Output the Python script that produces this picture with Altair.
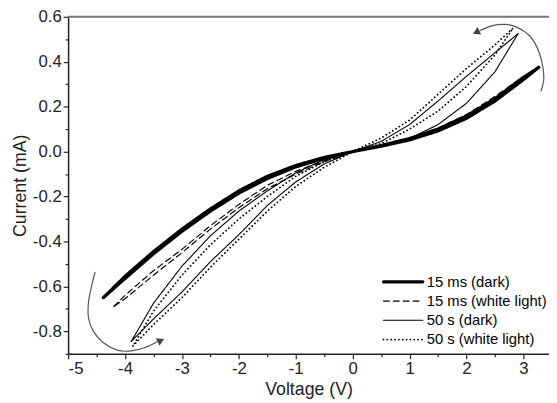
import altair as alt
import pandas as pd

series_names = ["15 ms (dark)", "15 ms (white light)", "50 s (dark)", "50 s (white light)"]

# each series is a closed sweep loop (negative tip -> positive tip -> back)
v_15ms_dark = [-4.38, -4.0, -3.5, -3.0, -2.5, -2.0, -1.5, -1.0, -0.5, 0.0, 0.5, 1.0, 1.5, 2.0, 2.5, 3.0, 3.27,
               3.0, 2.5, 2.0, 1.5, 1.0, 0.5, 0.0, -0.5, -1.0, -1.5, -2.0, -2.5, -3.0, -3.5, -4.0, -4.38]
i_15ms_dark = [-0.65, -0.565, -0.455, -0.355, -0.265, -0.185, -0.12, -0.068, -0.03, 0.0, 0.024, 0.052, 0.092, 0.148, 0.225, 0.32, 0.375,
               0.33, 0.235, 0.158, 0.1, 0.058, 0.027, 0.0, -0.026, -0.062, -0.11, -0.175, -0.255, -0.345, -0.445, -0.555, -0.65]

v_15ms_light = [-4.2, -4.0, -3.5, -3.0, -2.5, -2.0, -1.5, -1.0, -0.5, 0.0, 0.5, 1.0, 1.5, 2.0, 2.5, 3.0,
                2.5, 2.0, 1.5, 1.0, 0.5, 0.0, -0.5, -1.0, -1.5, -2.0, -2.5, -3.0, -3.5, -4.0, -4.2]
i_15ms_light = [-0.69, -0.64, -0.53, -0.435, -0.33, -0.235, -0.15, -0.088, -0.04, 0.0, 0.026, 0.056, 0.098, 0.155, 0.235, 0.335,
                0.245, 0.165, 0.105, 0.06, 0.028, 0.0, -0.045, -0.1, -0.165, -0.25, -0.345, -0.45, -0.55, -0.655, -0.69]

v_50s_dark = [-3.89, -3.5, -3.0, -2.5, -2.0, -1.5, -1.0, -0.5, 0.0, 0.5, 1.0, 1.5, 2.0, 2.5, 2.91,
              2.5, 2.0, 1.5, 1.0, 0.5, 0.0, -0.5, -1.0, -1.5, -2.0, -2.5, -3.0, -3.5, -3.89]
i_50s_dark = [-0.845, -0.745, -0.625, -0.49, -0.37, -0.24, -0.135, -0.055, 0.0, 0.022, 0.058, 0.12, 0.215, 0.355, 0.526,
              0.44, 0.335, 0.225, 0.12, 0.045, 0.0, -0.035, -0.095, -0.175, -0.265, -0.375, -0.51, -0.675, -0.845]

v_50s_light = [-3.86, -3.5, -3.0, -2.5, -2.0, -1.5, -1.0, -0.5, 0.0, 0.5, 1.0, 1.5, 2.0, 2.5, 2.82,
               2.5, 2.0, 1.5, 1.0, 0.5, 0.0, -0.5, -1.0, -1.5, -2.0, -2.5, -3.0, -3.5, -3.86]
i_50s_light = [-0.865, -0.77, -0.65, -0.515, -0.39, -0.265, -0.155, -0.07, 0.0, 0.035, 0.1, 0.18, 0.29, 0.43, 0.55,
               0.475, 0.37, 0.255, 0.14, 0.06, 0.0, -0.045, -0.11, -0.2, -0.3, -0.415, -0.55, -0.71, -0.865]

# sweep-direction arrows (data units)
arc_tr_v = [3.307, 3.359, 3.325, 3.238, 3.1, 2.892, 2.684, 2.459, 2.234]
arc_tr_i = [0.268, 0.325, 0.399, 0.465, 0.518, 0.553, 0.566, 0.561, 0.539]
head_tr = (2.17, 0.531)
arc_bl_v = [-4.525, -4.584, -4.641, -4.641, -4.554, -4.381, -4.121, -3.891, -3.659, -3.429]
arc_bl_i = [-0.536, -0.595, -0.668, -0.741, -0.800, -0.851, -0.885, -0.887, -0.873, -0.846]
head_bl = (-3.37, -0.841)

x_major = [-5, -4, -3, -2, -1, 0, 1, 2, 3]
x_minor = [-4.5, -3.5, -2.5, -1.5, -0.5, 0.5, 1.5, 2.5]
y_major = [-0.8, -0.6, -0.4, -0.2, 0.0, 0.2, 0.4, 0.6]
y_minor = [-0.9, -0.7, -0.5, -0.3, -0.1, 0.1, 0.3, 0.5]

styles = {
    "15 ms (dark)": dict(strokeWidth=3.2, strokeDash=[1, 0]),
    "15 ms (white light)": dict(strokeWidth=1.2, strokeDash=[6, 4]),
    "50 s (dark)": dict(strokeWidth=1.1, strokeDash=[1, 0]),
    "50 s (white light)": dict(strokeWidth=1.8, strokeDash=[0.1, 3.8]),
}

rows = []
for name, vs, cs in zip(series_names,
                        [v_15ms_dark, v_15ms_light, v_50s_dark, v_50s_light],
                        [i_15ms_dark, i_15ms_light, i_50s_dark, i_50s_light]):
    for k, (v, c) in enumerate(zip(vs, cs)):
        rows.append({"series": name, "V": v, "I": c, "k": k})
df = pd.DataFrame(rows)

FONT = "Liberation Sans"
W, H = 488, 342
xs = alt.Scale(domain=[-5, 3.45], nice=False, zero=False)
ys = alt.Scale(domain=[-0.9, 0.6], nice=False, zero=False)

lab_expr_x = "replace(format(datum.value, 'd'), '\u2212', '-')"
lab_expr_y = "replace(format(datum.value, '.1f'), '\u2212', '-')"

x_axis = alt.Axis(values=x_major, orient="bottom", tickSize=5, labelExpr=lab_expr_x, title="Voltage (V)",
                  grid=False, labelPadding=2, titlePadding=4)
y_axis = alt.Axis(values=y_major, orient="left", tickSize=5, labelExpr=lab_expr_y, title="Current (mA)",
                  grid=False, labelPadding=2, titlePadding=3)
x_axis_minor = alt.Axis(values=x_minor, orient="bottom", tickSize=3, labels=False, domain=False, title=None, grid=False)
y_axis_minor = alt.Axis(values=y_minor, orient="left", tickSize=3, labels=False, domain=False, title=None, grid=False)

layers = []
# minor ticks layer
layers.append(alt.Chart(df).mark_point(opacity=0).encode(
    x=alt.X("V:Q", scale=xs, axis=x_axis_minor),
    y=alt.Y("I:Q", scale=ys, axis=y_axis_minor)))

for idx, name in enumerate(series_names):
    st = styles[name]
    layers.append(alt.Chart(df).transform_filter(alt.datum.series == name).mark_line(
        color="black", strokeCap="round", strokeJoin="round", **st).encode(
        x=alt.X("V:Q", scale=xs, axis=x_axis if idx == 0 else None),
        y=alt.Y("I:Q", scale=ys, axis=y_axis if idx == 0 else None),
        order="k:Q"))

arc_df = pd.DataFrame(
    [{"arc": "tr", "V": v, "I": c, "k": k} for k, (v, c) in enumerate(zip(arc_tr_v, arc_tr_i))] +
    [{"arc": "bl", "V": v, "I": c, "k": k} for k, (v, c) in enumerate(zip(arc_bl_v, arc_bl_i))])
layers.append(alt.Chart(arc_df).mark_line(color="#555", strokeWidth=1.2, interpolate="cardinal").encode(
    x=alt.X("V:Q", scale=xs, axis=None), y=alt.Y("I:Q", scale=ys, axis=None),
    detail="arc:N", order="k:Q"))
layers.append(alt.Chart(pd.DataFrame([{"V": head_tr[0], "I": head_tr[1]}])).mark_point(
    shape="triangle-left", filled=True, color="#444", size=70, angle=335, opacity=1).encode(
    x=alt.X("V:Q", scale=xs, axis=None), y=alt.Y("I:Q", scale=ys, axis=None)))
layers.append(alt.Chart(pd.DataFrame([{"V": head_bl[0], "I": head_bl[1]}])).mark_point(
    shape="triangle-right", filled=True, color="#444", size=70, angle=335, opacity=1).encode(
    x=alt.X("V:Q", scale=xs, axis=None), y=alt.Y("I:Q", scale=ys, axis=None)))

# top frame line
layers.append(alt.Chart(pd.DataFrame({"a": [0]})).mark_rule(color="#777", strokeWidth=2).encode(
    x=alt.value(0), x2=alt.value(W), y=alt.value(0)))

# legend
LEG_X0, LEG_X1, LEG_TX, LEG_Y0, LEG_DY = 320, 360, 364, 269, 19.5
for r, name in enumerate(series_names):
    st = styles[name]
    ly = LEG_Y0 + r * LEG_DY
    layers.append(alt.Chart(pd.DataFrame({"a": [0]})).mark_rule(
        color="black", strokeCap="round", **st).encode(
        x=alt.value(LEG_X0), x2=alt.value(LEG_X1), y=alt.value(ly)))
    layers.append(alt.Chart(pd.DataFrame({"label": [name]})).mark_text(
        align="left", baseline="middle", font=FONT, fontSize=15, color="black").encode(
        x=alt.value(LEG_TX), y=alt.value(ly), text="label:N"))

chart = alt.layer(*layers).resolve_axis(x="independent", y="independent").properties(
    width=W, height=H, autosize="none",
    padding={"left": 61, "top": 6, "right": 0, "bottom": 47}
).configure_view(strokeWidth=0).configure_axis(
    domainColor="#222", domainWidth=1.5, tickColor="#222", tickWidth=1.2,
    labelColor="#222", labelFont=FONT, labelFontSize=17,
    titleFont=FONT, titleFontSize=18, titleFontWeight="normal", titleColor="#222")

chart.save("out.html", embed_options={"renderer": "svg", "actions": False})
